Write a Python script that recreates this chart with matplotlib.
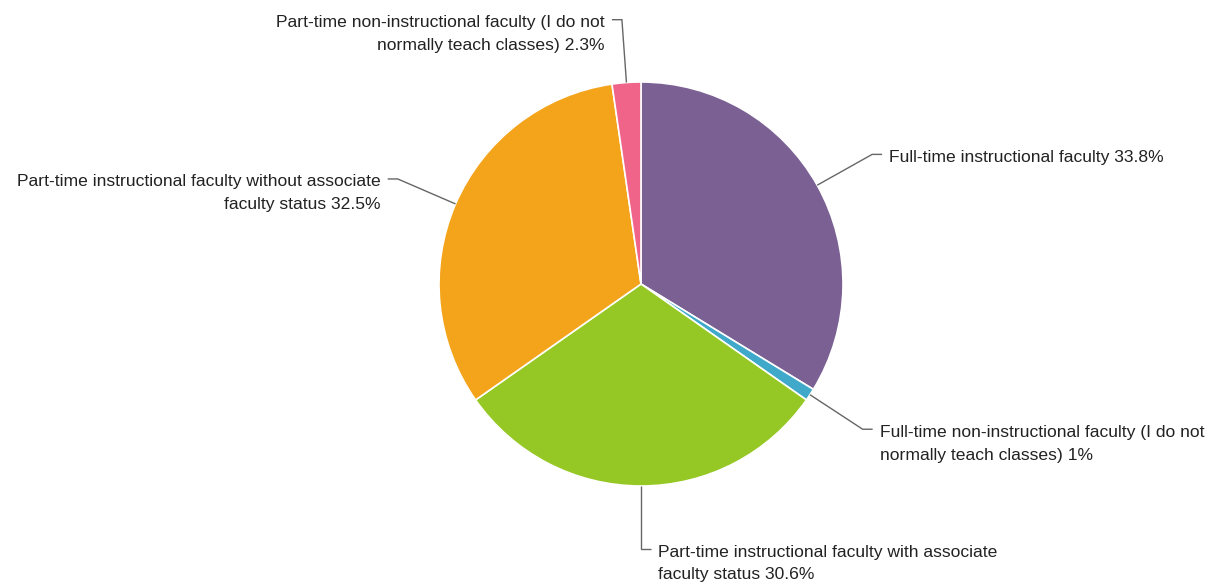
import numpy as np
import matplotlib
matplotlib.use("Agg")
import matplotlib.pyplot as plt

# Faculty status breakdown (percent of respondents)
categories = [
    "Full-time instructional faculty",
    "Full-time non-instructional faculty (I do not\nnormally teach classes)",
    "Part-time instructional faculty with associate\nfaculty status",
    "Part-time instructional faculty without associate\nfaculty status",
    "Part-time non-instructional faculty (I do not\nnormally teach classes)",
]
percent_labels = ["33.8%", "1%", "30.6%", "32.5%", "2.3%"]
values = [33.8, 1.0, 30.6, 32.5, 2.3]
colors = ["#7B6093", "#40A8C9", "#96C825", "#F4A41A", "#F0648A"]

W, H = 1214, 584
fig = plt.figure(figsize=(W / 100, H / 100), dpi=100)
ax = fig.add_axes([0, 0, 1, 1])

cx, cy = 641, H - 284
radius = 202

ax.pie(
    values, colors=colors, startangle=90, counterclock=False,
    center=(cx, cy), radius=radius, frame=True,
    wedgeprops=dict(edgecolor="white", linewidth=1.2),
)
ax.set_xlim(0, W)
ax.set_ylim(0, H)
ax.set_aspect("equal")
ax.axis("off")

total = sum(values)
elbow_r = 265
seg = 10
gap = 7
font = dict(family=["Liberation Sans", "DejaVu Sans"], fontsize=12.6, color="#222222")

cum = 0.0
for cat, pl, v in zip(categories, percent_labels, values):
    mid = (cum + v / 2) / total * 2 * np.pi
    cum += v
    sx, sy = np.sin(mid), np.cos(mid)
    x0, y0 = cx + radius * sx, cy + radius * sy
    x1, y1 = cx + elbow_r * sx, cy + elbow_r * sy
    side = 1 if sx >= 0 else -1
    x2 = x1 + side * seg
    ax.plot([x0, x1, x2], [y0, y1, y1], color="#666666", lw=1.0,
            solid_capstyle="butt", solid_joinstyle="miter")
    lines = (cat + " " + pl).split("\n")
    ha = "left" if side > 0 else "right"
    tx = x2 + side * gap
    for i, line in enumerate(lines):
        ax.text(tx, y1 - 3 - i * 23, line, ha=ha, va="center", **font)

fig.savefig("out.png", dpi=100)
